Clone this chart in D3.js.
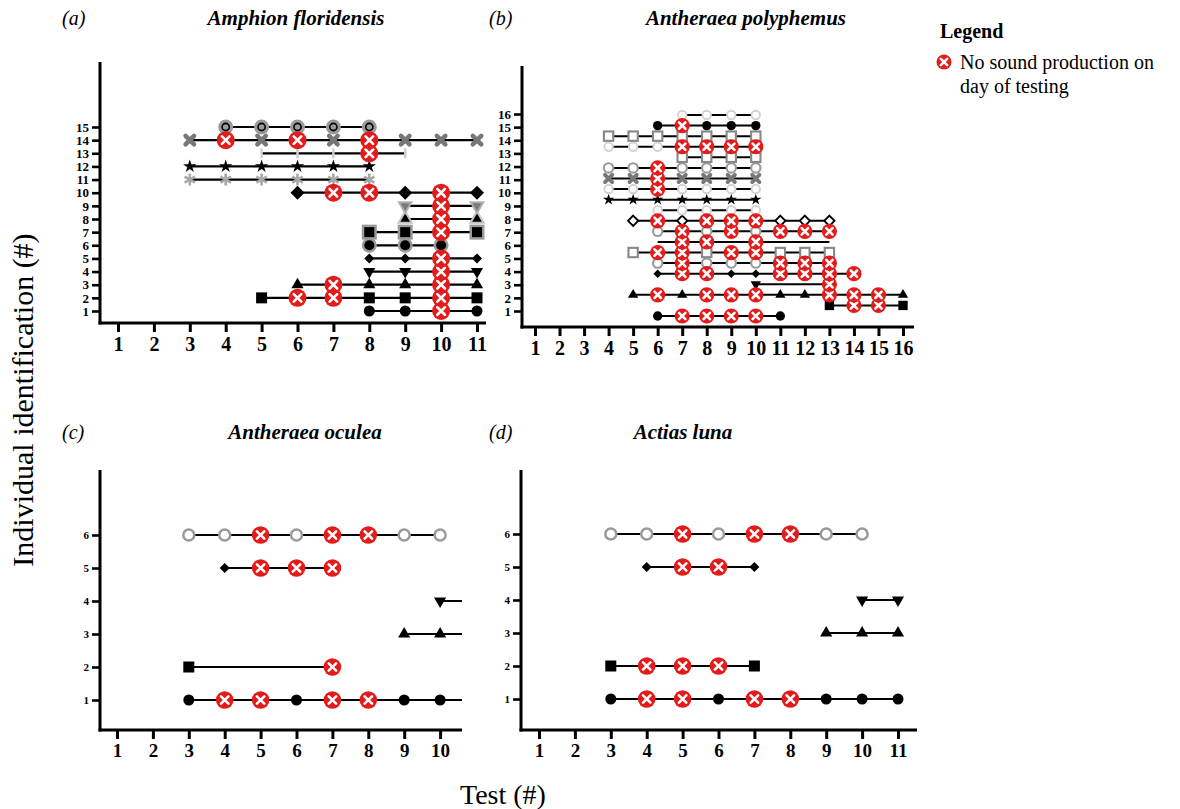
<!DOCTYPE html>
<html>
<head>
<meta charset="utf-8">
<script src="https://cdn.jsdelivr.net/npm/d3@7"></script>
<style>
  body { margin: 0; background: #fff; }
  svg { display: block; font-family: "Liberation Serif", "Times New Roman", serif; }
</style>
</head>
<body>
<svg id="chart" width="1180" height="809"></svg>
<script>
// ---------- Panel (a): Amphion floridensis ----------
const floridensisIds = d3.range(1, 16);
const floridensisMarkers = ["circle", "square", "triUp", "triDown", "diamondSmall", "haloCircle",
  "haloSquare", "haloTriUp", "grayTriDown", "diamond", "grayAsterisk", "star", "faintTick", "grayX", "ringHalo"];
const floridensisTests = [
  [8, 9, 10, 11],
  [5, 6, 7, 8, 9, 10, 11],
  [6, 7, 8, 9, 10, 11],
  [8, 9, 10, 11],
  [8, 9, 10, 11],
  [8, 9, 10],
  [8, 9, 10, 11],
  [9, 10, 11],
  [9, 10, 11],
  [6, 7, 8, 9, 10, 11],
  [3, 4, 5, 6, 7, 8],
  [3, 4, 5, 6, 7, 8],
  [5, 6, 7, 8, 9],
  [3, 4, 5, 6, 7, 8, 9, 10, 11],
  [4, 5, 6, 7, 8]
];
const floridensisSilent = [[10], [6, 7, 10], [7, 10], [10], [10], [], [10], [10], [10], [7, 8, 10], [], [], [8], [4, 6, 8], []];
const floridensisTestTicks = d3.range(1, 12);
const floridensisIdTicks = d3.range(1, 16);

// ---------- Panel (b): Antheraea polyphemus ----------
const polyphemusRows = d3.range(1, 21);
const polyphemusMarkers = ["circle", "square", "triUp", "triDown", "diamondSmall", "openCircleGray",
  "openSquareGray", "none", "openCircleGray", "openDiamond", "faint", "star", "faint", "grayX",
  "openCircleGray", "openSquareGray", "faint", "openSquareGray", "circle", "faint"];
const polyphemusTests = [
  [6, 7, 8, 9, 10, 11],
  [13, 14, 15, 16],
  [5, 6, 7, 8, 9, 10, 11, 12, 13, 14, 15, 16],
  [10, 13],
  [6, 7, 8, 9, 10, 11, 12, 13, 14],
  [6, 7, 8, 9, 10, 11, 12, 13],
  [5, 6, 7, 8, 9, 10, 11, 12, 13],
  [6, 7, 8, 9, 10, 11, 12, 13],
  [6, 7, 8, 9, 10, 11, 12, 13],
  [5, 6, 7, 8, 9, 10, 11, 12, 13],
  [6, 7, 8, 9, 10],
  [4, 5, 6, 7, 8, 9, 10],
  [4, 5, 6, 7, 8, 9, 10],
  [4, 5, 6, 7, 8, 9, 10],
  [4, 5, 6, 7, 8, 9, 10],
  [7, 8, 9, 10],
  [4, 5, 6, 7, 8, 9, 10],
  [4, 5, 6, 7, 8, 9, 10],
  [6, 7, 8, 9, 10],
  [7, 8, 9, 10]
];
const polyphemusSilent = [
  [7, 8, 9, 10], [14, 15], [6, 8, 9, 10, 13, 14, 15], [13], [7, 8, 11, 12, 13, 14],
  [7, 11, 12, 13], [6, 7, 9, 10], [7, 8, 10], [7, 9, 11, 12, 13], [6, 8, 9, 10],
  [], [], [6], [6], [6], [], [7, 8, 9, 10], [], [7], []
];
const polyphemusTestTicks = d3.range(1, 17);
const polyphemusIdTicks = d3.range(1, 17);

// ---------- Panel (c): Antheraea oculea ----------
const oculeaIds = d3.range(1, 7);
const oculeaMarkers = ["circle", "square", "triUp", "triDown", "diamondSmall", "openCircleGray"];
const oculeaTests = [
  [3, 4, 5, 6, 7, 8, 9, 10, 11],
  [3, 7],
  [9, 10, 11],
  [10, 11],
  [4, 5, 6, 7],
  [3, 4, 5, 6, 7, 8, 9, 10]
];
const oculeaSilent = [[4, 5, 7, 8], [7], [], [], [5, 6, 7], [5, 7, 8]];
const oculeaTestTicks = d3.range(1, 12);
const oculeaIdTicks = d3.range(1, 7);

// ---------- Panel (d): Actias luna ----------
const lunaIds = d3.range(1, 7);
const lunaMarkers = ["circle", "square", "triUp", "triDown", "diamondSmall", "openCircleGray"];
const lunaTests = [
  [3, 4, 5, 6, 7, 8, 9, 10, 11],
  [3, 4, 5, 6, 7],
  [9, 10, 11],
  [10, 11],
  [4, 5, 6, 7],
  [3, 4, 5, 6, 7, 8, 9, 10]
];
const lunaSilent = [[4, 5, 7, 8], [4, 5, 6], [], [], [5, 6], [5, 7, 8]];
const lunaTestTicks = d3.range(1, 12);
const lunaIdTicks = d3.range(1, 7);

// ---------- drawing ----------
const svg = d3.select("#chart");
const RED = "#e31b1b";
const GRAY = "#9a9a9a";
const SERIF = "Liberation Serif, Times New Roman, serif";

// one marker of the given type centred at (x, y), scaled by s
function drawMarker(g, type, x, y, s) {
  const m = g.append("g").attr("transform", `translate(${x},${y}) scale(${s})`);
  const sym = (t, size) => d3.symbol().type(t).size(size)();
  switch (type) {
    case "circle":
      m.append("circle").attr("r", 5.5).attr("fill", "#000"); break;
    case "square":
      m.append("rect").attr("x", -5.5).attr("y", -5.5).attr("width", 11).attr("height", 11).attr("fill", "#000"); break;
    case "triUp":
      m.append("path").attr("d", sym(d3.symbolTriangle, 64)).attr("fill", "#000"); break;
    case "triDown":
      m.append("path").attr("d", sym(d3.symbolTriangle, 64)).attr("transform", "rotate(180)").attr("fill", "#000"); break;
    case "diamondSmall":
      m.append("path").attr("d", "M0,-5L5,0L0,5L-5,0Z").attr("fill", "#000"); break;
    case "diamond":
      m.append("path").attr("d", "M0,-7L7,0L0,7L-7,0Z").attr("fill", "#000"); break;
    case "haloCircle":
      m.append("circle").attr("r", 7.5).attr("fill", GRAY);
      m.append("circle").attr("r", 5).attr("fill", "#000"); break;
    case "haloSquare":
      m.append("rect").attr("x", -7.5).attr("y", -7.5).attr("width", 15).attr("height", 15).attr("fill", GRAY);
      m.append("rect").attr("x", -5).attr("y", -5).attr("width", 10).attr("height", 10).attr("fill", "#000"); break;
    case "haloTriUp":
      m.append("path").attr("d", sym(d3.symbolTriangle, 120)).attr("fill", "#c4c4c4");
      m.append("path").attr("d", sym(d3.symbolTriangle, 40)).attr("fill", "#000"); break;
    case "grayTriDown":
      m.append("path").attr("d", sym(d3.symbolTriangle, 110)).attr("transform", "rotate(180)").attr("fill", "#b0b0b0");
      m.append("path").attr("d", sym(d3.symbolTriangle, 35)).attr("transform", "rotate(180)").attr("fill", "#7a7a7a"); break;
    case "grayAsterisk":
      [0, 60, 120].forEach(a => m.append("line").attr("x1", 0).attr("y1", -6).attr("x2", 0).attr("y2", 6)
        .attr("transform", `rotate(${a})`).attr("stroke", "#a8a8a8").attr("stroke-width", 2.6));
      break;
    case "star":
      m.append("path").attr("d", sym(d3.symbolStar, 55)).attr("fill", "#000"); break;
    case "faintTick":
      m.append("line").attr("x1", 0).attr("y1", -5).attr("x2", 0).attr("y2", 5).attr("stroke", "#cfcfcf").attr("stroke-width", 2.5); break;
    case "grayX":
      [45, -45].forEach(a => m.append("line").attr("x1", 0).attr("y1", -6).attr("x2", 0).attr("y2", 6)
        .attr("transform", `rotate(${a})`).attr("stroke", "#777").attr("stroke-width", 4.5).attr("stroke-linecap", "round"));
      break;
    case "ringHalo":
      m.append("circle").attr("r", 7.5).attr("fill", GRAY);
      m.append("circle").attr("r", 3.6).attr("fill", "#9a9a9a").attr("stroke", "#000").attr("stroke-width", 1.6); break;
    case "openCircleGray":
      m.append("circle").attr("r", 5.5).attr("fill", "#fff").attr("stroke", GRAY).attr("stroke-width", 2.5); break;
    case "openSquareGray":
      m.append("rect").attr("x", -5.5).attr("y", -5.5).attr("width", 11).attr("height", 11)
        .attr("fill", "#fff").attr("stroke", "#888").attr("stroke-width", 2.5); break;
    case "openDiamond":
      m.append("path").attr("d", "M0,-6L6,0L0,6L-6,0Z").attr("fill", "#fff").attr("stroke", "#000").attr("stroke-width", 2.2); break;
    case "faint":
      m.append("circle").attr("r", 5).attr("fill", "#fff").attr("stroke", "#d2d2d2").attr("stroke-width", 2.2); break;
    default: break;
  }
}

// red "no sound" marker: filled circle with a white cross
function drawSilent(g, x, y, r) {
  const m = g.append("g").attr("transform", `translate(${x},${y})`);
  m.append("circle").attr("r", r).attr("fill", RED);
  const a = r * 0.42;
  m.append("path").attr("d", `M${-a},${-a}L${a},${a}M${a},${-a}L${-a},${a}`)
    .attr("stroke", "#fff").attr("stroke-width", 2.6).attr("stroke-linecap", "round");
}

function drawPanel(cfg) {
  const g = svg.append("g");
  if (cfg.clipRight) {
    const id = "clip-" + cfg.key;
    svg.append("clipPath").attr("id", id).append("rect")
      .attr("x", 0).attr("y", cfg.axisTop - 20).attr("width", cfg.clipRight).attr("height", 400);
    g.attr("clip-path", `url(#${id})`);
  }
  const x = d3.scaleLinear().domain(cfg.xDomain).range(cfg.xRange);
  const yAxisScale = d3.scaleLinear().domain(cfg.yTickDomain).range(cfg.yTickRange);
  const yRow = d3.scaleLinear().domain(cfg.rowDomain).range(cfg.rowRange);

  // axis lines
  g.append("line").attr("x1", cfg.axisX).attr("x2", cfg.axisX).attr("y1", cfg.axisTop).attr("y2", cfg.axisY + 1.5)
    .attr("stroke", "#000").attr("stroke-width", 3);
  g.append("line").attr("x1", cfg.axisX - 1.5).attr("x2", cfg.axisRight).attr("y1", cfg.axisY).attr("y2", cfg.axisY)
    .attr("stroke", "#000").attr("stroke-width", 3);

  // bottom axis ticks and labels
  const xa = g.append("g").attr("transform", `translate(0,${cfg.axisY})`)
    .call(d3.axisBottom(x).tickValues(cfg.xTicks).tickSize(9).tickPadding(5).tickFormat(d3.format("d")));
  xa.select(".domain").remove();
  xa.selectAll(".tick line").attr("stroke-width", 3);
  xa.selectAll(".tick text").attr("font-family", SERIF)
    .attr("font-size", cfg.xFont).attr("font-weight", "bold").attr("fill", "#000");

  // left axis ticks and labels
  const ya = g.append("g").attr("transform", `translate(${cfg.axisX},0)`)
    .call(d3.axisLeft(yAxisScale).tickValues(cfg.yTicks).tickSize(8).tickPadding(3).tickFormat(d3.format("d")));
  ya.select(".domain").remove();
  ya.selectAll(".tick line").attr("stroke-width", 2.6);
  ya.selectAll(".tick text").attr("font-family", SERIF)
    .attr("font-size", cfg.yFont).attr("font-weight", "bold").attr("fill", "#000");

  const rows = cfg.rows.map((r, i) => ({
    row: r, marker: cfg.markers[i], tests: cfg.tests[i], silent: cfg.silent[i]
  }));

  // connecting lines for each individual
  g.append("g").selectAll("line").data(rows).join("line")
    .attr("x1", d => x(d3.min(d.tests))).attr("x2", d => x(d3.max(d.tests)))
    .attr("y1", d => yRow(d.row)).attr("y2", d => yRow(d.row))
    .attr("stroke", "#000").attr("stroke-width", cfg.lineW);

  // ordinary markers
  const mg = g.append("g");
  rows.forEach(d => d.tests.filter(t => !d.silent.includes(t))
    .forEach(t => drawMarker(mg, d.marker, x(t), yRow(d.row), cfg.markerScale)));

  // tests with no sound production
  const sg = g.append("g");
  rows.forEach(d => d.silent.forEach(t => drawSilent(sg, x(t), yRow(d.row), cfg.redR)));

  // panel letter and species title
  svg.append("text").attr("x", cfg.letterX).attr("y", cfg.titleY).text(cfg.letter)
    .attr("font-size", 20).attr("font-style", "italic");
  svg.append("text").attr("x", cfg.titleX).attr("y", cfg.titleY).attr("text-anchor", "middle").text(cfg.title)
    .attr("font-size", 21).attr("font-style", "italic").attr("font-weight", "bold");
}

drawPanel({
  key: "a", letter: "(a)", title: "Amphion floridensis", letterX: 62, titleX: 296, titleY: 25,
  xDomain: [1, 11], xRange: [118, 477], xTicks: floridensisTestTicks, xFont: 20,
  yTickDomain: [1, 15], yTickRange: [311, 127], yTicks: floridensisIdTicks, yFont: 13,
  rowDomain: [1, 15], rowRange: [311, 127],
  axisX: 100, axisY: 323, axisTop: 62, axisRight: 486,
  rows: floridensisIds, markers: floridensisMarkers, tests: floridensisTests, silent: floridensisSilent,
  markerScale: 1, redR: 9, lineW: 2.2
});

drawPanel({
  key: "b", letter: "(b)", title: "Antheraea polyphemus", letterX: 489, titleX: 746, titleY: 25,
  xDomain: [1, 16], xRange: [535, 903], xTicks: polyphemusTestTicks, xFont: 20,
  yTickDomain: [1, 16], yTickRange: [311, 114], yTicks: polyphemusIdTicks, yFont: 13,
  rowDomain: [1, 20], rowRange: [316, 115],
  axisX: 522, axisY: 327, axisTop: 66, axisRight: 914,
  rows: polyphemusRows, markers: polyphemusMarkers, tests: polyphemusTests, silent: polyphemusSilent,
  markerScale: 0.85, redR: 7.6, lineW: 2
});

drawPanel({
  key: "c", letter: "(c)", title: "Antheraea oculea", letterX: 62, titleX: 305, titleY: 439,
  xDomain: [1, 11], xRange: [117, 476], xTicks: oculeaTestTicks, xFont: 19,
  yTickDomain: [1, 6], yTickRange: [700, 535], yTicks: oculeaIdTicks, yFont: 11,
  rowDomain: [1, 6], rowRange: [700, 535],
  axisX: 100, axisY: 730, axisTop: 470, axisRight: 470, clipRight: 462,
  rows: oculeaIds, markers: oculeaMarkers, tests: oculeaTests, silent: oculeaSilent,
  markerScale: 1, redR: 8.8, lineW: 2.2
});

drawPanel({
  key: "d", letter: "(d)", title: "Actias luna", letterX: 489, titleX: 683, titleY: 439,
  xDomain: [1, 11], xRange: [539, 898], xTicks: lunaTestTicks, xFont: 19,
  yTickDomain: [1, 6], yTickRange: [699, 534], yTicks: lunaIdTicks, yFont: 11,
  rowDomain: [1, 6], rowRange: [699, 534],
  axisX: 521, axisY: 730, axisTop: 470, axisRight: 917,
  rows: lunaIds, markers: lunaMarkers, tests: lunaTests, silent: lunaSilent,
  markerScale: 1, redR: 8.8, lineW: 2.2
});

// shared axis titles
svg.append("text").attr("transform", "translate(33,400) rotate(-90)").attr("text-anchor", "middle")
  .attr("font-size", 30).text("Individual identification (#)");
svg.append("text").attr("x", 503).attr("y", 804).attr("text-anchor", "middle")
  .attr("font-size", 28).text("Test (#)");

// legend
const legend = svg.append("g");
legend.append("text").attr("x", 940).attr("y", 38).attr("font-size", 20).attr("font-weight", "bold").text("Legend");
drawSilent(legend, 944, 62, 7.5);
legend.append("text").attr("x", 960).attr("y", 69).attr("font-size", 20).text("No sound production on");
legend.append("text").attr("x", 960).attr("y", 93).attr("font-size", 20).text("day of testing");
</script>
</body>
</html>
